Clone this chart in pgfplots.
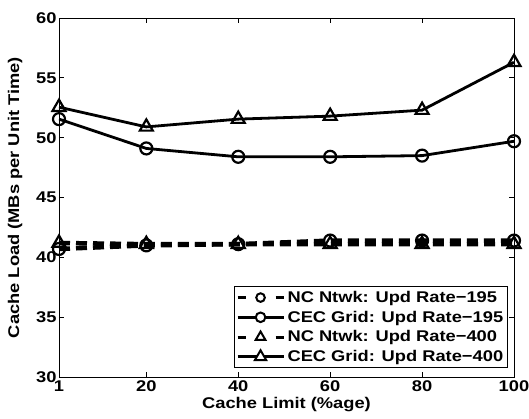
\documentclass[border=0pt]{standalone}
\usepackage{pgfplots}
\pgfplotsset{compat=1.18}
\usepackage{fontspec}
\setmainfont{Liberation Sans}[FakeStretch=1.18]
\begin{document}
\begin{tikzpicture}
\pgfplotsset{
  dashcirc/.style={legend image code/.code={
    \draw[black, line width=3pt, dash pattern=on 8pt off 30pt] (0pt,0pt) -- (46pt,0pt);
    \draw[black, solid, line width=2pt, fill=white] (23pt,0pt) circle (4.3pt);}},
  solidcirc/.style={legend image code/.code={
    \draw[black, line width=2.6pt] (0pt,0pt) -- (46pt,0pt);
    \draw[black, solid, line width=2pt, fill=white] (23pt,0pt) circle (4.8pt);}},
  dashtri/.style={legend image code/.code={
    \draw[black, line width=3pt, dash pattern=on 8pt off 30pt] (0pt,0pt) -- (46pt,0pt);
    \draw[black, solid, line width=2pt, fill=white, line join=miter] (23pt,5.5pt) -- (18.2pt,-2.75pt) -- (27.8pt,-2.75pt) -- cycle;}},
  solidtri/.style={legend image code/.code={
    \draw[black, line width=2.6pt] (0pt,0pt) -- (46pt,0pt);
    \draw[black, solid, line width=2pt, fill=white, line join=miter] (23pt,6.5pt) -- (17.4pt,-3.25pt) -- (28.6pt,-3.25pt) -- cycle;}},
}
\begin{axis}[
  at={(0,0)}, anchor=south west,
  scale only axis, width=455pt, height=359pt,
  xmin=1, xmax=100, ymin=30, ymax=60,
  xtick={1,20,40,60,80,100}, ytick={30,35,...,60},
  axis line style={line width=0.8pt},
  tick style={line width=0.8pt, black}, major tick length=5pt,
  tick align=inside, xtick pos=both, ytick pos=both,
  ticklabel style={font=\fontsize{15.5}{18}\selectfont\bfseries},
  xticklabel style={yshift=0pt},
  yticklabel style={xshift=1pt},
  /pgf/number format/assume math mode=true,
  xlabel={\fontsize{15.5}{18}\selectfont\bfseries Cache Limit (\%age)},
  ylabel={\fontsize{15.5}{18}\selectfont\bfseries Cache Load (MBs per Unit Time)},
  xlabel style={yshift=1pt}, ylabel style={yshift=7pt},
  legend style={at={(0.987,0.025)}, anchor=south east, draw=black, line width=0.8pt,
    font=\fontsize{15.5}{17}\selectfont\bfseries, row sep=2pt, inner sep=2pt,
    nodes={inner sep=2.5pt}},
  legend cell align=left,
]
\addplot[black, line width=4.5pt, dash pattern=on 11pt off 6pt, mark=o, mark size=6pt, mark options={solid, line width=2.2pt}, dashcirc]
  coordinates {(1,40.7) (20,41.0) (40,41.1) (60,41.4) (80,41.4) (100,41.4)};
\addlegendentry{NC Ntwk: Upd Rate−195}
\addplot[black, line width=2.8pt, mark=o, mark size=6pt, mark options={solid, line width=2.2pt}, solidcirc]
  coordinates {(1,51.55) (20,49.1) (40,48.4) (60,48.4) (80,48.5) (100,49.7)};
\addlegendentry{CEC Grid: Upd Rate−195}
\addplot[black, line width=4.5pt, dash pattern=on 11pt off 6pt, mark=triangle, mark size=7.5pt, mark options={solid, line width=2.2pt}, dashtri]
  coordinates {(1,41.2) (20,41.1) (40,41.1) (60,41.1) (80,41.1) (100,41.1)};
\addlegendentry{NC Ntwk: Upd Rate−400}
\addplot[black, line width=2.8pt, mark=triangle, mark size=7.5pt, mark options={solid, line width=2.2pt}, solidtri]
  coordinates {(1,52.55) (20,50.9) (40,51.55) (60,51.8) (80,52.3) (100,56.3)};
\addlegendentry{CEC Grid: Upd Rate−400}
\end{axis}
\pgfresetboundingbox
\path (-59pt,-41pt) rectangle (470pt,377pt);
\end{tikzpicture}
\end{document}
